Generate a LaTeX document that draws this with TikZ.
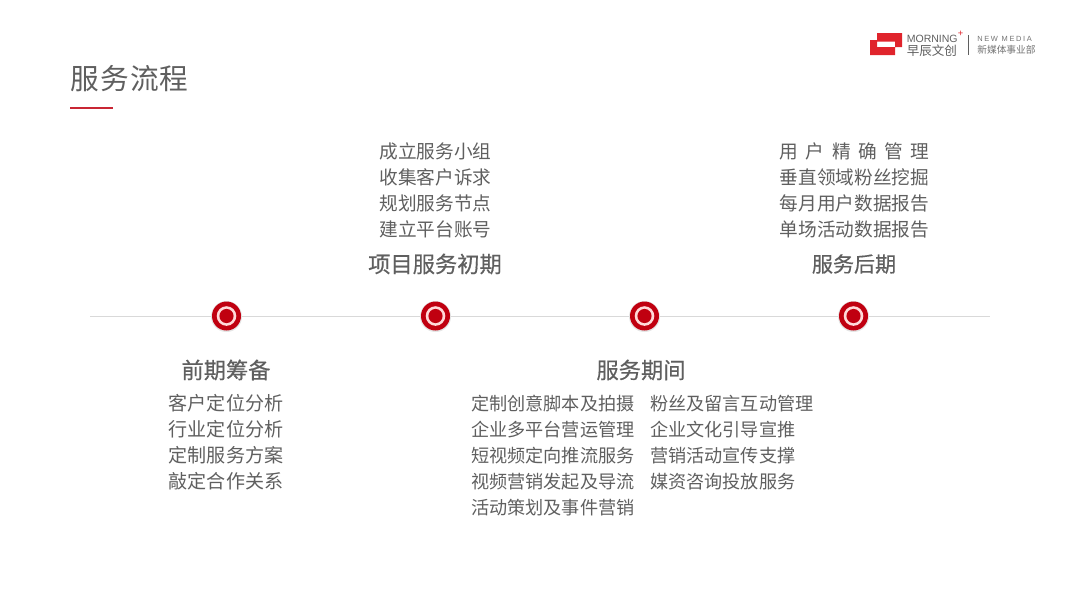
\documentclass[tikz,border=0pt]{standalone}
\usepackage{fontspec}
\setmainfont{Noto Sans CJK SC}
\newfontfamily\latinfont{Liberation Sans}
\newfontfamily\headfont[FakeBold=0.5]{Noto Sans CJK SC}
\definecolor{textgray}{HTML}{5F5F5F}
\definecolor{morningred}{HTML}{C00010}
\definecolor{logored}{HTML}{E0242C}
\tikzset{
    itemlist/.style={inner sep=0pt,text=textgray,font=\fontsize{14pt}{19.5pt}\selectfont,align=center},
    duringlist/.style={itemlist,font=\fontsize{13.6pt}{19.5pt}\selectfont,align=left,anchor=north west},
    phasehead/.style={inner sep=0pt,text=textgray,font=\headfont\fontsize{16.7pt}{20pt}\selectfont},
    logotext/.style={inner sep=0pt,text=textgray,anchor=base west},
}
\begin{document}
\begin{tikzpicture}[x=0.75pt,y=-0.75pt]
\useasboundingbox (0,0) rectangle (1080,608);

% title
\node[inner sep=0pt,text=textgray,font=\fontsize{21.5pt}{26pt}\selectfont\addfontfeature{LetterSpace=4}] (title) at (129.5,79) {服务流程};
\fill[morningred!85!white] (70,106.5) rectangle (113,108.5);

% timeline
\coordinate (lineleft) at (90,316);
\coordinate (lineright) at (990,316);
\draw[black!15,line width=0.7pt] (lineleft) -- (lineright);
\foreach \name/\x in {prep/226.5,start/435.5,during/644.5,after/853.5}{
    \fill[black!10] (\x,316.5) circle (15.5);
    \fill[morningred] (\x,316) circle (14.5);
    \fill[red!15!white] (\x,316) circle (9.8);
    \node[circle,fill=morningred,inner sep=0pt,minimum size=10.6pt] (\name) at (\x,316) {};
}

% upper texts
\node[itemlist] (startitems) at (435.5,190) {成立服务小组\\收集客户诉求\\规划服务节点\\建立平台账号};
\node[phasehead] (starthead) at (435,264) {项目服务初期};
\node[itemlist] (afteritems) at (854.5,190) {用\hspace{0.4em}户\hspace{0.4em}精\hspace{0.4em}确\hspace{0.4em}管\hspace{0.4em}理\\垂直领域粉丝挖掘\\每月用户数据报告\\单场活动数据报告};
\node[phasehead,font=\headfont\fontsize{15.8pt}{20pt}\selectfont] (afterhead) at (854,264) {服务后期};

% lower texts
\node[phasehead] (prephead) at (226,370) {前期筹备};
\node[itemlist,font=\fontsize{14.3pt}{19.5pt}\selectfont] (prepitems) at (226,442) {客户定位分析\\行业定位分析\\定制服务方案\\敲定合作关系};
\node[phasehead] (duringhead) at (641,370) {服务期间};
\node[duringlist] (duringleft) at (471,395) {定制创意脚本及拍摄\\企业多平台营运管理\\短视频定向推流服务\\视频营销发起及导流\\活动策划及事件营销};
\node[duringlist] (duringright) at (650,395) {粉丝及留言互动管理\\企业文化引导宣推\\营销活动宣传支撑\\媒资咨询投放服务};

% logo
\fill[logored,even odd rule] (877,33) -- (902,33) -- (902,47) -- (895,47) -- (895,55) -- (870,55) -- (870,40) -- (877,40) -- cycle
    (877,41.5) rectangle (895,47);
\node[logotext,font=\latinfont\fontsize{7.9pt}{9pt}\selectfont] (logoname) at (906.5,42.5) {MORNING};
\node[inner sep=0pt,text=logored,font=\latinfont\fontsize{7pt}{8pt}\selectfont] (logoplus) at (960.5,33.5) {+};
\node[logotext,font=\fontsize{9.4pt}{10pt}\selectfont] (logocn) at (906.5,55) {早辰文创};
\fill[textgray] (967.5,35) rectangle (968.5,55);
\node[logotext,text=black!55,font=\latinfont\fontsize{5.6pt}{6pt}\selectfont\addfontfeature{LetterSpace=22}] (logomedia) at (977,41) {NEW MEDIA};
\node[logotext,text=black!55,font=\fontsize{7.3pt}{8pt}\selectfont] (logodept) at (977,53) {新媒体事业部};
\end{tikzpicture}
\end{document}
